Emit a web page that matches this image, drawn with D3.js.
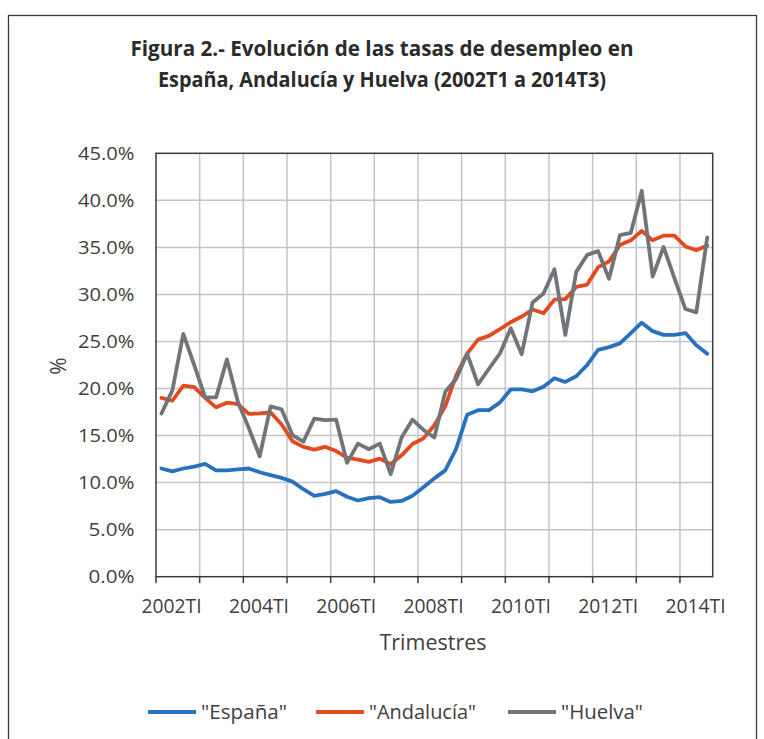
<!DOCTYPE html>
<html><head><meta charset="utf-8">
<script src="https://cdn.jsdelivr.net/npm/d3@7"></script>
<style>html,body{margin:0;padding:0;background:#fff;}svg{display:block;font-family:"Open Sans",sans-serif;}</style>
</head><body><svg id="c" width="764" height="739"></svg>
<script>
const categories = [
"2002TI","2002TII","2002TIII","2002TIV","2003TI","2003TII","2003TIII","2003TIV",
"2004TI","2004TII","2004TIII","2004TIV","2005TI","2005TII","2005TIII","2005TIV",
"2006TI","2006TII","2006TIII","2006TIV","2007TI","2007TII","2007TIII","2007TIV",
"2008TI","2008TII","2008TIII","2008TIV","2009TI","2009TII","2009TIII","2009TIV",
"2010TI","2010TII","2010TIII","2010TIV","2011TI","2011TII","2011TIII","2011TIV",
"2012TI","2012TII","2012TIII","2012TIV","2013TI","2013TII","2013TIII","2013TIV",
"2014TI","2014TII","2014TIII"];
const espana = [11.5,11.2,11.5,11.7,12.0,11.3,11.3,11.4,11.5,11.1,10.8,10.5,10.1,9.3,8.6,8.8,9.1,8.5,8.1,8.35,8.45,7.95,8.05,8.6,9.5,10.45,11.3,13.6,17.2,17.7,17.7,18.5,19.9,19.9,19.7,20.2,21.1,20.7,21.3,22.5,24.1,24.4,24.8,25.9,27.0,26.1,25.7,25.7,25.9,24.6,23.7];
const andalucia = [19.0,18.7,20.3,20.15,19.0,18.0,18.5,18.35,17.3,17.35,17.45,16.2,14.4,13.8,13.5,13.8,13.35,12.65,12.45,12.2,12.55,11.95,12.9,14.1,14.7,16.1,18.1,21.4,23.7,25.2,25.6,26.3,27.05,27.65,28.4,28.0,29.45,29.5,30.8,31.05,32.9,33.5,35.25,35.75,36.75,35.75,36.25,36.25,35.1,34.7,35.2];
const huelva = [17.35,19.8,25.8,22.5,19.05,19.05,23.1,18.6,15.8,12.8,18.1,17.8,15.05,14.35,16.8,16.65,16.7,12.1,14.15,13.55,14.15,10.9,14.8,16.7,15.6,14.8,19.65,21.0,23.7,20.45,22.1,23.7,26.4,23.65,29.15,30.1,32.67,25.7,32.4,34.2,34.6,31.65,36.3,36.55,41.0,31.9,35.05,31.7,28.45,28.1,36.05];
const seriesNames = ['"España"','"Andalucía"','"Huelva"'];
const seriesColors = ["#2871BE","#E5491D","#717478"];
const yTicks = [0,5,10,15,20,25,30,35,40,45];
const xLabels = ["2002TI","2004TI","2006TI","2008TI","2010TI","2012TI","2014TI"];
const titleLines = ["Figura 2.- Evolución de las tasas de desempleo en","España, Andalucía y Huelva (2002T1 a 2014T3)"];

const svg = d3.select("#c");
const L=156, R=712.7, T=153.3, B=576.7;
const x = d3.scaleBand().domain(categories).range([L,R]).padding(0);
const y = d3.scaleLinear().domain([0,45]).range([B,T]);
const bw = x.bandwidth();
const cx = c => x(c) + bw/2;

function squeeze(sel, size, target){
  sel.attr("font-size", size).attr("textLength", target).attr("lengthAdjust","spacingAndGlyphs");
}

// outer frame
svg.append("rect").attr("x",8.5).attr("y",15.5).attr("width",748).attr("height",740)
  .attr("fill","none").attr("stroke","#3c3c3c").attr("stroke-width",1.3);

// title
titleLines.forEach((t,i)=>{
  const s = svg.append("text").attr("x",382).attr("y",[56,87][i]).attr("text-anchor","middle")
   .attr("font-weight","bold").attr("fill","#2b2b2b").text(t);
  squeeze(s, 22, [503,448][i]);
});

// gridlines
const g = svg.append("g");
g.selectAll(".hg").data(yTicks.filter(v=>v>0&&v<45)).join("line")
  .attr("x1",L).attr("x2",R).attr("y1",d=>y(d)).attr("y2",d=>y(d))
  .attr("stroke","#C3C4C8").attr("stroke-width",1.5);
const vIdx = d3.range(4, categories.length, 4);
g.selectAll(".vg").data(vIdx).join("line")
  .attr("x1",d=>x(categories[d])).attr("x2",d=>x(categories[d])).attr("y1",T).attr("y2",B)
  .attr("stroke","#C3C4C8").attr("stroke-width",1.5);

// lines
const line = d3.line().x((d,i)=>cx(categories[i])).y(d=>y(d)).curve(d3.curveLinear);
[espana, andalucia, huelva].forEach((s,k)=>{
  svg.append("path").datum(s).attr("d",line).attr("fill","none")
    .attr("stroke",seriesColors[k]).attr("stroke-width",3.8).attr("stroke-linejoin","round").attr("stroke-linecap","round");
});

// plot border
svg.append("rect").attr("x",L).attr("y",T).attr("width",R-L).attr("height",B-T)
  .attr("fill","none").attr("stroke","#3a3a3a").attr("stroke-width",1.5);

// x ticks
const tIdx = d3.range(0, categories.length, 4);
svg.selectAll(".xt").data(tIdx).join("line")
  .attr("x1",d=>x(categories[d])).attr("x2",d=>x(categories[d])).attr("y1",B).attr("y2",B+6.5)
  .attr("stroke","#3a3a3a").attr("stroke-width",1.5);

// x labels
const xl = svg.selectAll(".xl").data(xLabels).join("text")
  .attr("x",d=>x(d)+15.6).attr("y",613).attr("text-anchor","middle").attr("fill","#404040").text(d=>d);
squeeze(xl, 20, 60);

// y labels
const yl = svg.selectAll(".yl").data(yTicks).join("text")
  .attr("x",134.5).attr("y",d=>y(d)).attr("dy","0.36em").attr("text-anchor","end").attr("fill","#404040")
  .text(d=>d.toFixed(1)+"%");
yl.attr("font-size",18.5).attr("textLength",d=>d>=10?56.5:46).attr("lengthAdjust","spacingAndGlyphs");

// axis titles
const xt = svg.append("text").attr("x",433).attr("y",650).attr("text-anchor","middle").attr("fill","#404040").text("Trimestres");
squeeze(xt, 22, 107);
const yt = svg.append("text").attr("transform","translate(66,366) rotate(-90)").attr("text-anchor","middle").attr("fill","#404040").text("%");
yt.attr("font-size", 21);

// legend
const legX = [148, 316, 508];
const legTW = [86, 107, 82];
seriesNames.forEach((n,k)=>{
  svg.append("line").attr("x1",legX[k]).attr("x2",legX[k]+48).attr("y1",712).attr("y2",712)
    .attr("stroke",seriesColors[k]).attr("stroke-width",3.8);
  const t = svg.append("text").attr("x",legX[k]+53).attr("y",719).attr("fill","#404040").text(n);
  squeeze(t, 20.5, legTW[k]);
});
</script></body></html>
